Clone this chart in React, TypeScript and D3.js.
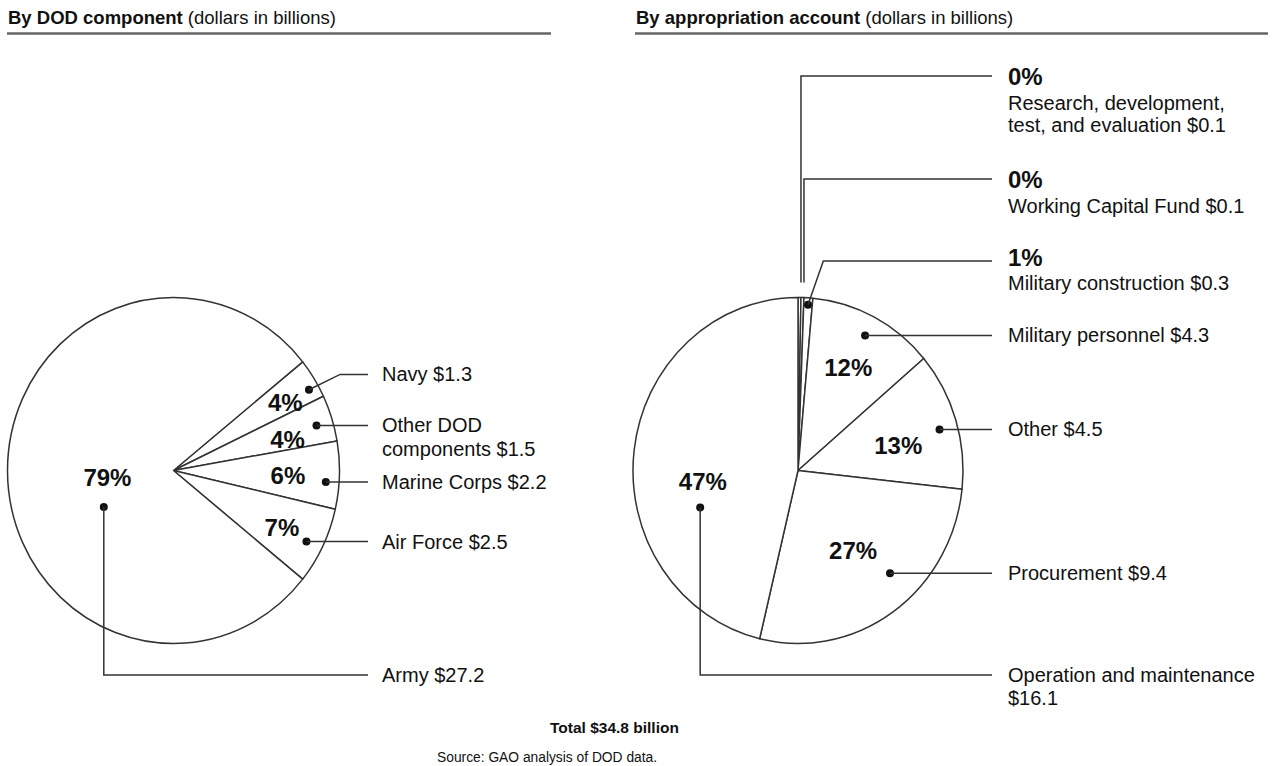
import React from 'react';
import * as d3 from 'd3';

// left pie: by DOD component (dollars in billions)
const componentNames = ['Navy', 'Other DOD\ncomponents', 'Marine Corps', 'Air Force', 'Army'];
const componentValues = [1.3, 1.5, 2.2, 2.5, 27.2];
const componentShares = ['4%', '4%', '6%', '7%', '79%'];

// right pie: by appropriation account (dollars in billions)
const accountNames = [
  'Research, development,\ntest, and evaluation',
  'Working Capital Fund',
  'Military construction',
  'Military personnel',
  'Other',
  'Procurement',
  'Operation and maintenance\n',
];
const accountValues = [0.1, 0.1, 0.3, 4.3, 4.5, 9.4, 16.1];
const accountShares = ['0%', '0%', '1%', '12%', '13%', '27%', '47%'];

const totalLabel = 'Total $34.8 billion';
const sourceLabel = 'Source: GAO analysis of DOD data.';

// where the share text / leader dot sit: fraction of radius + degrees off slice middle
const componentLayout = [
  { kind: 'elbow', pr: 0.78, pa: 1.8, dr: 0.94, da: 2.4, er: 1.147, ea: 3.2 },
  { kind: 'flat', pr: 0.71, pa: 3, dr: 0.9, da: 0.8 },
  { kind: 'flat', pr: 0.69, pa: 0.8, dr: 0.92, da: 2.6 },
  { kind: 'flat', pr: 0.73, pa: 0.6, dr: 0.9, da: 1.2 },
  { kind: 'down', pr: 0.4, pa: -5.6, dr: 0.47, da: -26.7 },
];
const accountLayout = [
  { kind: 'top', lineY: 76 },
  { kind: 'top', lineY: 179 },
  { kind: 'elbow', dr: 0.96, da: 0, er: 1.221, ea: 3.6, pctDy: 5 },
  { kind: 'flat', pr: 0.67, pa: -0.4, dr: 0.88, da: 0.1 },
  { kind: 'flat', pr: 0.625, pa: 3.5, dr: 0.89, da: 1.6 },
  { kind: 'flat', pr: 0.57, pa: -0.7, dr: 0.815, da: -8 },
  { kind: 'down', pr: 0.58, pa: -13.1, dr: 0.63, da: -26.5 },
];

const FONT = "'Liberation Sans', Arial, Helvetica, sans-serif";
const INK = '#111';
const LINE = '#333';
const BOTTOM_Y = 675;
const rad = Math.PI / 180;

type PieSpec = {
  names: string[];
  values: number[];
  shares: string[];
  layout: any[];
  cx: number;
  cy: number;
  rx: number;
  ry: number;
  startDeg: number;
  lineEnd: number;
  textX: number;
  calloutPct: boolean[];
};

function Pie({ spec }: { spec: PieSpec }) {
  const { names, values, shares, layout, cx, cy, rx, ry, lineEnd, textX } = spec;
  const a0 = spec.startDeg * rad;
  const pie = d3
    .pie<number>()
    .sort(null)
    .startAngle(a0)
    .endAngle(a0 + 2 * Math.PI);
  const arcs = pie(values);
  const arc = d3.arc<d3.PieArcDatum<number>>().innerRadius(0).outerRadius(rx);

  const polar = (a: number, f: number): [number, number] => [
    cx + rx * f * Math.sin(a),
    cy - ry * f * Math.cos(a),
  ];

  const parts: React.ReactNode[] = [];
  arcs.forEach((d, i) => {
    const L = layout[i];
    const mid = (d.startAngle + d.endAngle) / 2;
    const label = names[i].endsWith('\n')
      ? `${names[i]}$${values[i].toFixed(1)}`
      : `${names[i]} $${values[i].toFixed(1)}`;
    const lines = label.split('\n');

    if (L.pr !== undefined) {
      const [px, py] = polar(mid + L.pa * rad, L.pr);
      parts.push(
        <text key={`p${i}`} x={px} y={py} dy="0.36em" textAnchor="middle"
          fontSize={24} fontWeight="bold" fill={INK}>{shares[i]}</text>
      );
    }

    let lineY = 0;
    let path = '';
    if (L.kind === 'top') {
      const [tx] = polar(d.endAngle, 1);
      lineY = L.lineY;
      path = `M${tx},${cy - ry - 15}V${lineY}H${lineEnd}`;
    } else {
      const [dx, dy] = polar(mid + L.da * rad, L.dr);
      parts.push(<circle key={`d${i}`} cx={dx} cy={dy} r={4} fill={INK} />);
      if (L.kind === 'elbow') {
        const [ex, ey] = polar(mid + L.ea * rad, L.er);
        lineY = ey;
        path = `M${dx},${dy}L${ex},${ey}H${lineEnd}`;
      } else if (L.kind === 'down') {
        lineY = BOTTOM_Y;
        path = `M${dx},${dy}V${lineY}H${lineEnd}`;
      } else {
        lineY = dy;
        path = `M${dx},${dy}H${lineEnd}`;
      }
    }
    parts.push(<path key={`l${i}`} d={path} fill="none" stroke={LINE} strokeWidth={1.5} />);

    if (spec.calloutPct[i]) {
      const base = lineY + (L.pctDy ?? 9);
      parts.push(
        <text key={`c${i}`} x={textX} y={base} fontSize={24} fontWeight="bold" fill={INK}>
          {shares[i]}
        </text>
      );
      parts.push(
        <text key={`t${i}`} x={textX} y={base + 24.5} fontSize={20} fill={INK}>
          {lines.map((s, k) => (
            <tspan key={k} x={textX} dy={k === 0 ? 0 : 22.7}>{s}</tspan>
          ))}
        </text>
      );
    } else {
      parts.push(
        <text key={`t${i}`} x={textX} y={lineY} dy="0.35em" fontSize={20} fill={INK}>
          {lines.map((s, k) => (
            <tspan key={k} x={textX} dy={k === 0 ? '0.35em' : 23.3}>{s}</tspan>
          ))}
        </text>
      );
    }
  });

  return (
    <g>
      <g transform={`translate(${cx},${cy}) scale(1,${ry / rx})`}>
        {arcs.map((d, i) => (
          <path key={i} d={arc(d) || ''} fill="#fff" stroke={LINE} strokeWidth={1.5}
            vectorEffect="non-scaling-stroke" strokeLinejoin="round" />
        ))}
      </g>
      {parts}
    </g>
  );
}

export default function App() {
  const smallShare = d3.sum(componentValues.slice(0, 4)) / d3.sum(componentValues);
  const left: PieSpec = {
    names: componentNames,
    values: componentValues,
    shares: componentShares,
    layout: componentLayout,
    cx: 173.5, cy: 470.5, rx: 166, ry: 173,
    startDeg: 90 - smallShare * 180,
    lineEnd: 368, textX: 382,
    calloutPct: componentValues.map(() => false),
  };
  const right: PieSpec = {
    names: accountNames,
    values: accountValues,
    shares: accountShares,
    layout: accountLayout,
    cx: 798, cy: 470.5, rx: 165, ry: 173,
    startDeg: 0,
    lineEnd: 992, textX: 1008,
    calloutPct: accountValues.map((_, i) => i < 3),
  };

  return (
    <svg width={1275} height={766} viewBox="0 0 1275 766"
      style={{ position: 'absolute', left: 0, top: 0, background: '#fff' }}
      fontFamily={FONT}>
      <rect width={1275} height={766} fill="#fff" />
      <text x={8} y={24} fontSize={18.5} fill={INK}>
        <tspan fontWeight="bold">By DOD component</tspan> (dollars in billions)
      </text>
      <line x1={7} x2={551} y1={33.5} y2={33.5} stroke="#666" strokeWidth={2.5} />
      <text x={636} y={24} fontSize={18.5} fill={INK}>
        <tspan fontWeight="bold">By appropriation account</tspan> (dollars in billions)
      </text>
      <line x1={635} x2={1268} y1={33.5} y2={33.5} stroke="#666" strokeWidth={2.5} />

      <Pie spec={left} />
      <Pie spec={right} />

      <text x={550} y={733} fontSize={15.5} fontWeight="bold" fill={INK}>{totalLabel}</text>
      <text x={437} y={762} fontSize={13.8} fill={INK}>{sourceLabel}</text>
    </svg>
  );
}
